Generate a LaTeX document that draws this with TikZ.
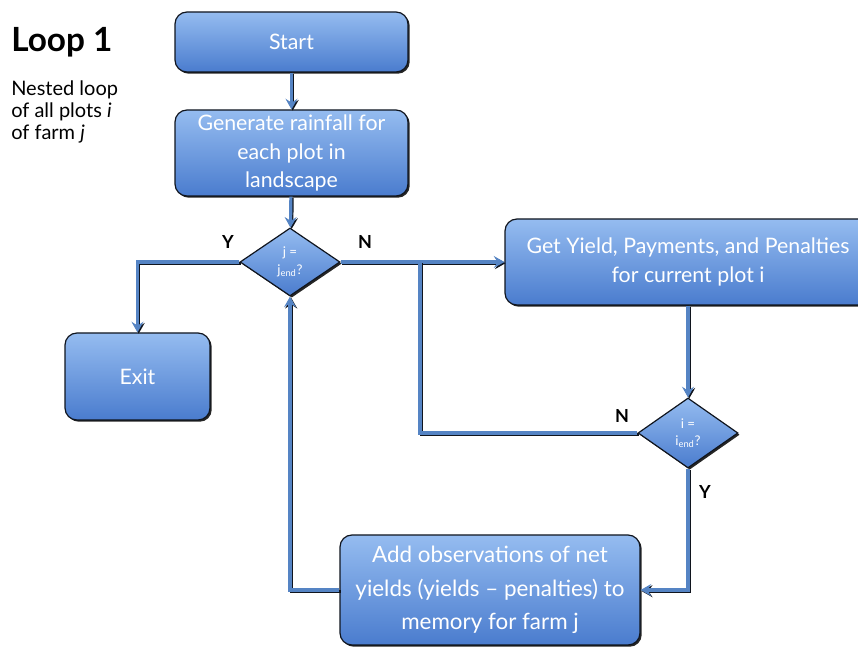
\documentclass[tikz,border=0pt]{standalone}
\usepackage{fontspec}
\setmainfont{Lato}
\usetikzlibrary{shapes.geometric,arrows.meta,shadows}
\definecolor{boxtop}{HTML}{95BCF0}
\definecolor{boxbot}{HTML}{4A7CCE}
\definecolor{linkblue}{HTML}{5584C4}
\definecolor{edge}{HTML}{10151E}
\begin{document}
\begin{tikzpicture}[x=0.75pt,y=-0.75pt,
  box/.style={rectangle, rounded corners=9pt, top color=boxtop, bottom color=boxbot,
    draw=edge, line width=0.9pt, text=white, align=center, inner sep=0pt,
    font=\fontsize{16}{21.5}\selectfont,
    drop shadow={shadow xshift=1.3pt, shadow yshift=-1.3pt, opacity=0.85, fill=black}},
  decision/.style={diamond, top color=boxtop, bottom color=boxbot, draw=edge,
    line width=0.9pt, text=white, align=center, inner sep=0pt,
    font=\fontsize{10}{13}\selectfont,
    drop shadow={shadow xshift=1.3pt, shadow yshift=-1.3pt, opacity=0.85, fill=black}},
  link/.style={draw=linkblue, line width=2.4pt,
    preaction={draw=edge, line width=2.4pt, transform canvas={shift={(0.9pt,-0.9pt)}}}},
  conn/.style={link, -{Stealth[length=8pt,width=9pt,inset=3pt]}},
  yn/.style={font=\fontsize{13.5}{16}\bfseries\selectfont, text=black},
]
\useasboundingbox (0,0) rectangle (858,648);
\clip (0,0) rectangle (858,648);

% side caption
\node[anchor=base west, inner sep=0pt, font=\fontsize{25}{30}\bfseries\selectfont] (title) at (11,52) {Loop 1};
\node[anchor=north west, align=left, inner sep=0pt,
      font=\fontsize{15}{16.5}\selectfont] (note) at (11,81)
  {Nested loop\\ of all plots \textit{i}\\ of farm \textit{j}};

% process boxes
\node[box, minimum width=174.75pt, minimum height=45pt] (start) at (291.5,42) {Start};
\node[box, minimum width=174.75pt, minimum height=64.5pt] (gen) at (291.5,153)
  {Generate rainfall for\\ each plot in\\ landscape};
\node[box, minimum width=108.75pt, minimum height=65.25pt] (exit) at (137.5,376.5) {Exit};
\node[box, minimum width=274.5pt, minimum height=64.5pt] (gy) at (688,262)
  {Get Yield, Payments, and Penalties\\ for current plot i};
\node[box, minimum width=225pt, minimum height=82.5pt,
      font=\fontsize{16.8}{25}\selectfont] (add) at (490,590)
  {Add observations of net\\ yields (yields -- penalties) to\\ memory for farm j};

% decisions
\node[decision, minimum width=75pt, minimum height=51pt] (dj) at (290,262)
  {j =\\ j\textsubscript{end}?};
\node[decision, minimum width=75pt, minimum height=52.5pt] (di) at (688,433)
  {i =\\ i\textsubscript{end}?};

% connectors
\coordinate (join) at (420,262);
\draw[conn] (start) -- (gen);
\draw[conn] (gen) -- (dj);
\draw[conn] (dj.west) -| (exit.north);
\draw[conn] (dj.east) -- (gy.west);
\draw[conn] (gy) -- (di);
\draw[link] (di.west) -| (join);
\draw[conn] (di.south) |- (add.east);
\draw[conn] (add.west) -| (dj.south);

% branch labels
\node[yn] (yj) at (228,242) {Y};
\node[yn] (nj) at (365,242) {N};
\node[yn] (ni) at (622,416) {N};
\node[yn] (yi) at (705,492) {Y};
\end{tikzpicture}
\end{document}
